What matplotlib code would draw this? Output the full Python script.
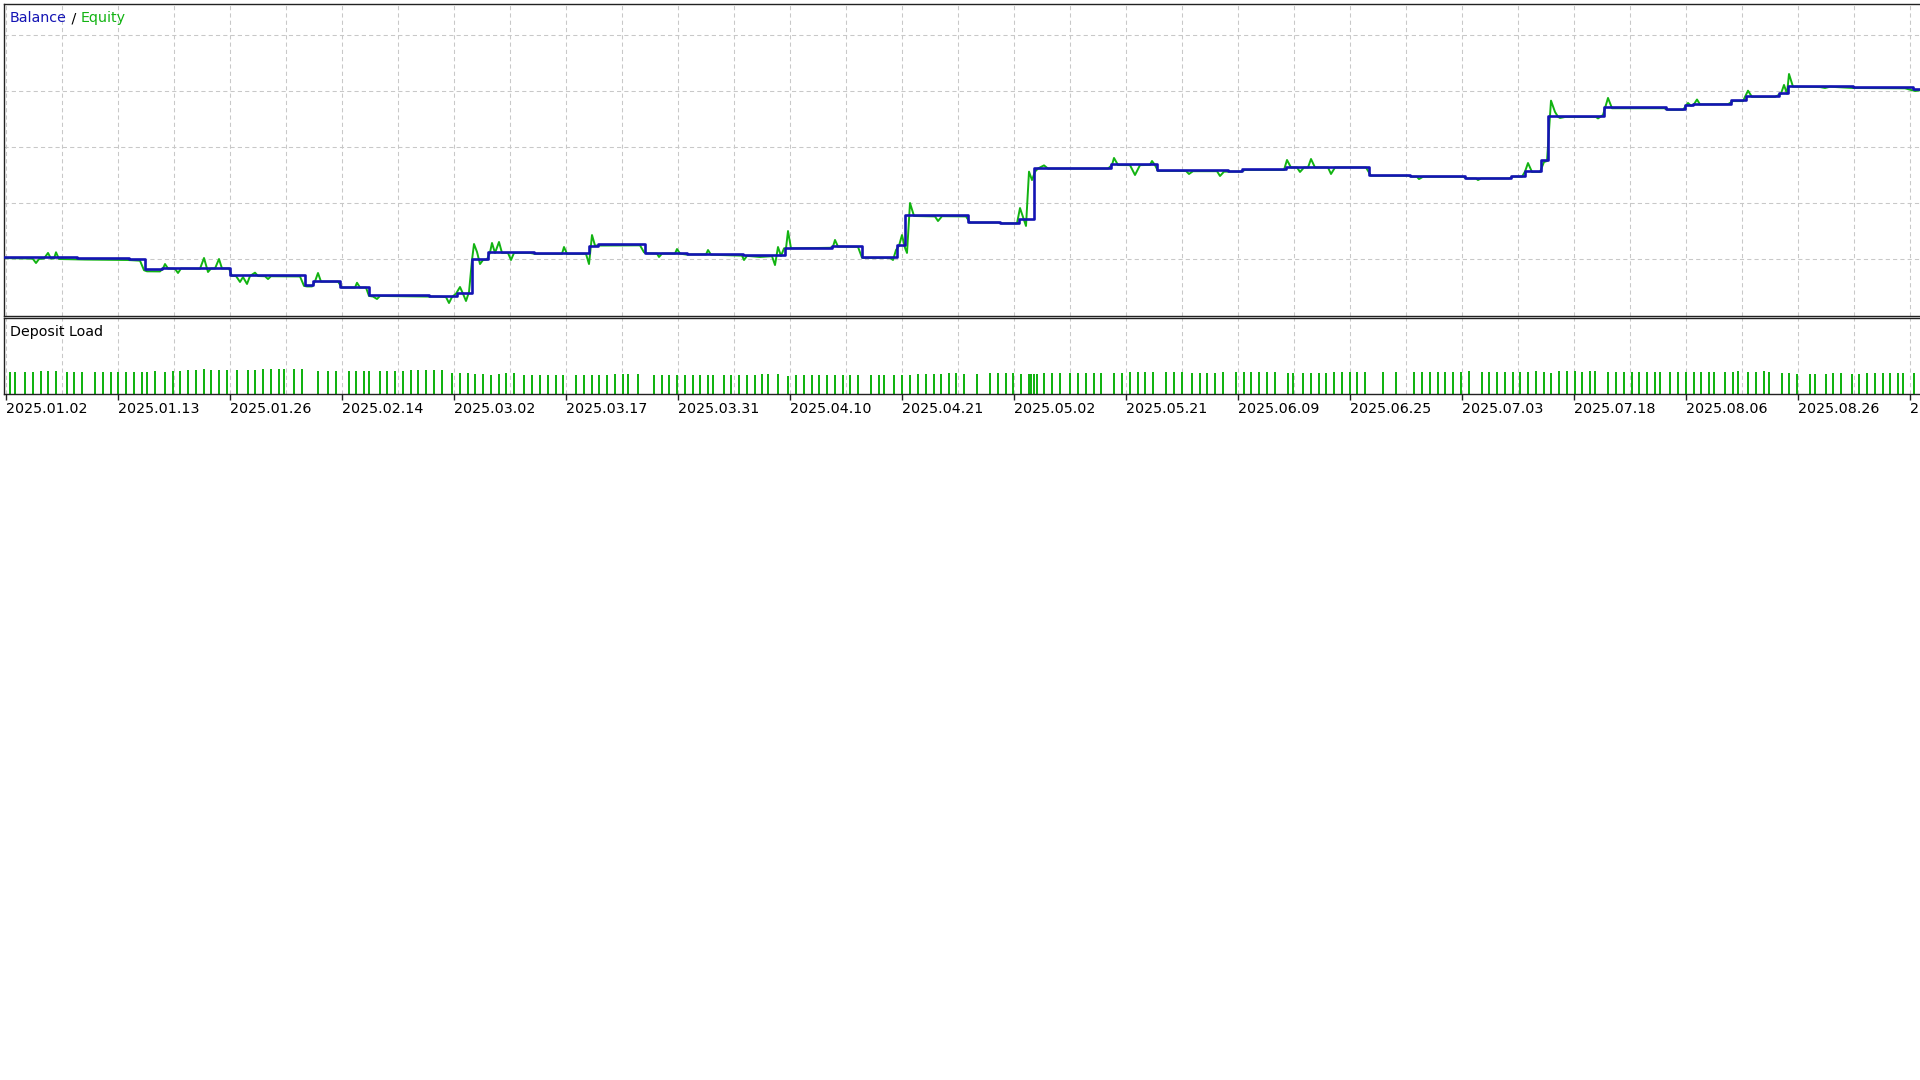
import numpy as np
import matplotlib
matplotlib.use("Agg")
import matplotlib.pyplot as plt

# ---------------- data (x = deal index along the report, y = account value) ----------------
balance_idx = [4, 77, 129, 145, 162, 230, 305, 313, 340, 369, 429, 457, 472, 488, 534, 589, 598,
               645, 687, 743, 785, 832, 862, 897, 905, 968, 1000, 1019, 1034, 1111, 1157, 1228,
               1242, 1286, 1369, 1410, 1465, 1511, 1525, 1541, 1548, 1604, 1666, 1685, 1693,
               1731, 1746, 1779, 1788, 1853, 1913, 1922]
balance_val = [10015, 10009, 9997, 9908, 9922, 9854, 9768, 9804, 9753, 9679, 9670, 9699, 9997,
               10063, 10054, 10119, 10134, 10056, 10045, 10033, 10101, 10116, 10018, 10125,
               10390, 10333, 10324, 10357, 10813, 10846, 10792, 10786, 10801, 10824, 10750,
               10741, 10726, 10741, 10790, 10884, 11277, 11353, 11339, 11375, 11388, 11417,
               11455, 11482, 11545, 11533, 11520, 11520]

equity_points = [
    (4, 10008), (30, 10004), (33, 10000), (36, 9964), (39, 10000), (44, 10004), (48, 10054),
    (51, 10004), (54, 10004), (56, 10060), (59, 10000), (85, 9995), (128, 9991), (140, 9985),
    (144, 9900),
    (147, 9890), (160, 9889), (163, 9915), (165, 9955), (168, 9915), (175, 9912), (178, 9875),
    (181, 9915), (200, 9913), (204, 10009), (207, 9915), (208, 9884), (211, 9915), (215, 9915),
    (219, 10000), (222, 9915), (229, 9915),
    (232, 9848), (236, 9848), (240, 9795), (243, 9839), (247, 9777), (250, 9848), (255, 9878),
    (258, 9848), (265, 9846), (268, 9821), (271, 9846), (300, 9844), (304, 9760),
    (307, 9755), (312, 9755), (315, 9800), (318, 9875), (321, 9798), (338, 9798), (342, 9745),
    (355, 9745), (357, 9788), (360, 9745), (366, 9745),
    (369, 9670), (373, 9665), (377, 9643), (380, 9670), (440, 9663), (446, 9660), (449, 9607),
    (452, 9661), (456, 9690), (460, 9750), (463, 9690), (466, 9625), (469, 9705),
    (472, 9990), (474, 10134), (477, 10063), (480, 9955), (483, 9991), (487, 9995),
    (490, 10058), (492, 10143), (495, 10054), (499, 10152), (502, 10054), (508, 10054),
    (511, 9991), (514, 10054), (530, 10054),
    (535, 10046), (562, 10046), (564, 10107), (567, 10046), (586, 10046), (589, 9955),
    (592, 10214), (595, 10120), (640, 10122), (644, 10060),
    (647, 10050), (657, 10048), (659, 10018), (662, 10048), (675, 10048), (677, 10089),
    (680, 10048), (686, 10040), (706, 10040), (708, 10080), (711, 10038), (742, 10030),
    (744, 9991), (747, 10028), (760, 10018), (772, 10025), (775, 9946), (778, 10107),
    (781, 10027), (784, 10095),
    (786, 10095), (788, 10250), (791, 10095), (830, 10100), (833, 10110), (835, 10170),
    (838, 10110), (858, 10108), (862, 10012),
    (864, 10010), (890, 10010), (893, 9991), (896, 10080), (899, 10118), (902, 10214),
    (905, 10100), (907, 10054), (910, 10500),
    (914, 10384), (935, 10380), (938, 10339), (942, 10382), (966, 10380), (970, 10325),
    (998, 10325), (1002, 10318), (1017, 10318), (1020, 10455), (1024, 10350), (1026, 10295),
    (1029, 10780), (1032, 10705),
    (1035, 10780), (1038, 10808), (1044, 10836), (1048, 10807), (1108, 10807),
    (1112, 10840), (1114, 10902), (1118, 10839), (1130, 10838), (1135, 10750), (1140, 10838),
    (1150, 10840), (1152, 10875), (1155, 10838),
    (1158, 10786), (1186, 10786), (1189, 10759), (1193, 10784), (1217, 10784), (1220, 10741),
    (1224, 10780), (1241, 10780), (1245, 10795), (1284, 10795),
    (1287, 10884), (1291, 10817), (1297, 10817), (1300, 10777), (1304, 10817), (1308, 10817),
    (1311, 10893), (1315, 10817), (1328, 10817), (1331, 10759), (1335, 10817), (1366, 10817),
    (1371, 10743), (1408, 10743), (1412, 10734), (1417, 10734), (1419, 10714), (1423, 10734),
    (1463, 10734), (1467, 10719), (1476, 10719), (1478, 10705), (1481, 10719), (1509, 10719),
    (1513, 10735), (1522, 10735),
    (1525, 10780), (1528, 10857), (1532, 10777), (1540, 10777), (1544, 10866), (1547, 10875),
    (1551, 11414), (1555, 11313), (1558, 11270), (1560, 11259), (1565, 11268), (1596, 11268),
    (1598, 11255), (1603, 11286),
    (1608, 11438), (1612, 11346), (1664, 11346), (1668, 11332), (1683, 11332),
    (1688, 11393), (1691, 11368), (1694, 11382), (1697, 11424), (1700, 11380), (1728, 11382),
    (1733, 11410), (1743, 11410),
    (1748, 11503), (1752, 11447), (1775, 11447), (1781, 11476), (1784, 11554), (1787, 11476),
    (1789, 11652), (1793, 11538), (1820, 11535), (1825, 11527), (1830, 11538), (1853, 11527),
    (1870, 11526), (1905, 11524), (1910, 11512), (1915, 11500), (1922, 11509),
]
equity_idx = [p[0] for p in equity_points]
equity_val = [p[1] for p in equity_points]

load_idx = [10, 15, 25, 33, 41, 48, 56, 67, 74, 82, 95, 103, 111, 118, 126, 134, 142, 147, 155,
            165, 173, 180, 188, 196, 204, 211, 219, 227, 237, 248, 255, 263, 271, 279, 284, 294,
            302, 318, 328,
            336, 349, 356, 364, 369, 380, 387, 395, 403, 411, 418, 426, 434, 442, 452, 460, 468,
            475, 483, 491, 499, 506, 514, 524, 532, 540, 548, 556, 563, 576, 584, 592, 599, 607,
            615, 623, 628, 638,
            654, 662, 669, 677, 685, 693, 700, 708, 713, 724, 731, 739, 747, 755, 762, 768, 778,
            788, 796, 804, 812, 819, 827, 835, 843, 850, 858, 871, 879, 884, 894, 902, 910, 918,
            926, 934, 941, 949, 956, 964,
            977, 990, 998, 1006, 1013, 1021, 1029, 1031, 1034, 1037, 1044, 1052, 1060, 1070,
            1078, 1086, 1094, 1101, 1114, 1122, 1130, 1138, 1145, 1153, 1166, 1174, 1182, 1192,
            1200, 1207, 1215, 1223, 1236, 1244, 1251, 1259, 1267, 1275, 1288,
            1293, 1303, 1311, 1319, 1326, 1334, 1342, 1350, 1357, 1365, 1383, 1396, 1414, 1422,
            1430, 1438, 1445, 1453, 1461, 1469, 1482, 1489, 1497, 1505, 1513, 1520, 1528, 1536,
            1544, 1551, 1559, 1567, 1575, 1582, 1590, 1595, 1608,
            1616, 1624, 1632, 1639, 1647, 1655, 1660, 1670, 1678, 1686, 1694, 1701, 1709, 1714,
            1725, 1733, 1738, 1748, 1756, 1764, 1769, 1782, 1789, 1797, 1810, 1815, 1826, 1833,
            1841, 1852, 1859, 1867, 1875, 1883, 1890, 1898, 1903, 1914]
load_pct = ([28.5] * 4 + [29.8] * 3 + [28.5] * 6 + [29.3] + [28.5] * 4 + [29.8, 28.5, 29.8, 29.8,
            31.2, 31.2, 32.5] + [31.2] * 6 + [32.5] * 6 + [29.8] * 2
            + [29.8] * 9 + [31.2] * 5 + [27.2] * 3 + [25.9] * 2 + [24.6, 25.9, 27.2, 27.2]
            + [24.6] * 11 + [25.9] * 4
            + [24.6] * 14 + [25.9] * 3 + [23.3] + [24.6] * 15 + [25.9] * 4 + [27.2] * 2 + [25.9]
            + [25.9] + [27.2] * 4 + [25.9] * 5 + [27.2] * 10 + [28.5] * 7 + [27.2] * 4
            + [28.5] * 7 + [27.2]
            + [27.2] * 5 + [28.5] * 14 + [29.8] + [28.5] * 7 + [29.8, 28.5, 27.2] + [29.8] * 3
            + [28.5] + [29.8] * 2 + [28.5]
            + [28.5] * 16 + [29.8] + [28.5] * 2 + [29.8, 28.5] + [27.2] * 2 + [25.9] * 4
            + [27.2] * 2 + [25.9] * 2 + [27.2] * 7)

date_labels = ["2025.01.02", "2025.01.13", "2025.01.26", "2025.02.14", "2025.03.02",
               "2025.03.17", "2025.03.31", "2025.04.10", "2025.04.21", "2025.05.02",
               "2025.05.21", "2025.06.09", "2025.06.25", "2025.07.03", "2025.07.18",
               "2025.08.06", "2025.08.26", "2025.09.12"]

# ---------------- style ----------------
BLUE = "#1414b4"
GREEN = "#12b312"
GRID = "#c8c8c8"
FRAME = "#222222"
FONT = "DejaVu Sans"
FS = 10.3

W, H = 1920, 1080
fig = plt.figure(figsize=(19.2, 10.8), dpi=100)
fig.patch.set_facecolor("white")


def rect(x0, y0, x1, y1):
    return [x0 / W, 1 - y1 / H, (x1 - x0) / W, (y1 - y0) / H]


ax = fig.add_axes(rect(4, 4, 1922, 316))
axd = fig.add_axes(rect(4, 318, 1922, 394))

major = np.arange(5.7, 1922, 112)
minor = np.arange(61.7, 1922, 112)

for a in (ax, axd):
    a.set_xlim(4, 1922)
    a.set_xticks(major)
    a.set_xticks(minor, minor=True)
    a.set_axisbelow(True)
    a.grid(True, which="both", axis="x", color=GRID, linestyle=(0, (4, 3)), linewidth=0.75)
    a.spines["right"].set_visible(False)
    for s in ("top", "left", "bottom"):
        a.spines[s].set_color(FRAME)
        a.spines[s].set_linewidth(1.0)
    a.tick_params(axis="x", which="minor", length=0)
    a.set_facecolor("white")

# top panel
ax.set_ylim(10000 - 57 * 500 / 56, 10000 + 255 * 500 / 56)
ax.set_yticks(np.arange(10000, 12001, 500))
ax.grid(True, axis="y", color=GRID, linestyle=(0, (4, 3)), linewidth=0.75)
ax.tick_params(axis="both", which="both", length=0, labelbottom=False, labelleft=False)

ax.plot(equity_idx, equity_val, color=GREEN, linewidth=1.4, zorder=2)
ax.plot(balance_idx, balance_val, color=BLUE, linewidth=1.9, drawstyle="steps-post", zorder=3)

# deposit load panel
axd.set_ylim(0, 100)
axd.set_yticks([])
axd.bar(load_idx, load_pct, width=2.2, color=GREEN, linewidth=0, zorder=2)
axd.set_xticklabels(date_labels, fontsize=FS, family=FONT, color="black")
axd.tick_params(axis="x", which="major", direction="out", length=4, width=1,
                color=FRAME, pad=1.5)
for lab in axd.get_xticklabels():
    lab.set_horizontalalignment("left")

# titles
fig.canvas.draw()
renderer = fig.canvas.get_renderer()
x = 10
y = 1 - 18 / H
for txt, col in (("Balance", BLUE), (" / ", "black"), ("Equity", GREEN)):
    t = fig.text(x / W, y, txt, color=col, fontsize=FS, family=FONT, va="center", ha="left")
    bb = t.get_window_extent(renderer=renderer)
    x += bb.width

fig.text(10 / W, 1 - 332 / H, "Deposit Load", color="black", fontsize=FS, family=FONT,
         va="center", ha="left")

fig.savefig("out.png", dpi=100, facecolor="white")
